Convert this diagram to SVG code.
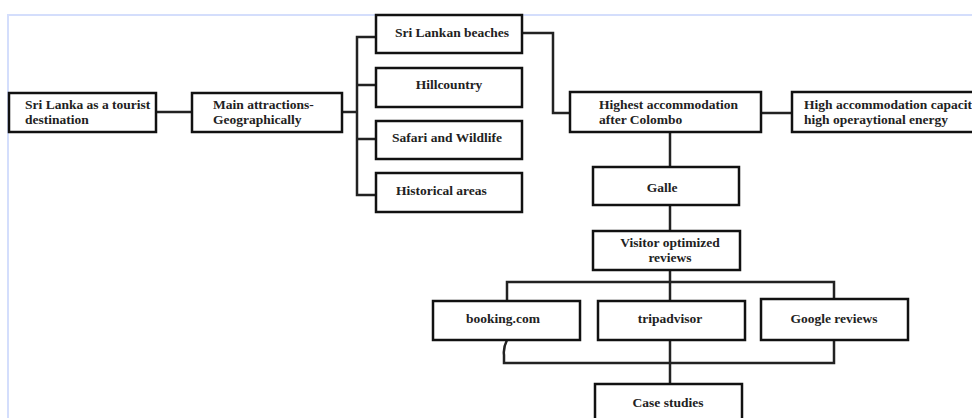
<svg xmlns="http://www.w3.org/2000/svg" width="972" height="418" viewBox="0 0 972 418">
<style>
.box{fill:#fff;stroke:#111;stroke-width:2.5}
.ln{fill:none;stroke:#222;stroke-width:2.5}
text{font-family:"Liberation Serif","DejaVu Serif",serif;font-weight:bold;font-size:13.5px;fill:#222}
.c{text-anchor:middle}
</style>
<rect width="972" height="418" fill="#fff"/>
<path d="M8,418 V15 H972" fill="none" stroke="#d4defc" stroke-width="2"/>
<g id="connectors">
<path class="ln" d="M156,112 H192"/>
<path class="ln" d="M342,112 H357"/>
<path class="ln" d="M376,37 H357 V195 H376"/>
<path class="ln" d="M357,85 H376 M357,139 H376"/>
<path class="ln" d="M522,33 H553 V113 H570"/>
<path class="ln" d="M761,113 H792"/>
<path class="ln" d="M670,132 V167"/>
<path class="ln" d="M670,205 V231"/>
<path class="ln" d="M670,270 V301"/>
<path class="ln" d="M507,301 V282 H834 V299"/>
<path class="ln" d="M507,340 Q503,348 504,355 V363 H834 V340"/>
<path class="ln" d="M670,340 V384"/>
</g>
<g id="n1"><rect class="box" x="9" y="93" width="147" height="39"/><text x="25" y="109">Sri Lanka as a tourist</text><text x="25" y="124">destination</text></g>
<g id="n2"><rect class="box" x="192" y="93" width="150" height="39"/><text x="213" y="109">Main attractions-</text><text x="213" y="124">Geographically</text></g>
<g id="n3"><rect class="box" x="376" y="15" width="146" height="38"/><text class="c" x="452" y="37">Sri Lankan beaches</text></g>
<g id="n4"><rect class="box" x="376" y="68" width="146" height="39"/><text class="c" x="449" y="89">Hillcountry</text></g>
<g id="n5"><rect class="box" x="376" y="121" width="146" height="38"/><text class="c" x="447" y="142">Safari and Wildlife</text></g>
<g id="n6"><rect class="box" x="376" y="173" width="146" height="39"/><text x="396" y="195">Historical areas</text></g>
<g id="n7"><rect class="box" x="570" y="92" width="191" height="40"/><text x="599" y="109">Highest accommodation</text><text x="599" y="124">after Colombo</text></g>
<g id="n8"><rect class="box" x="792" y="92" width="190" height="40"/><text x="804" y="109">High accommodation capacit</text><text x="804" y="124">high operaytional energy</text></g>
<g id="n9"><rect class="box" x="593" y="167" width="146" height="38"/><text class="c" x="662" y="192">Galle</text></g>
<g id="n10"><rect class="box" x="593" y="231" width="147" height="39"/><text class="c" x="670" y="247">Visitor optimized</text><text class="c" x="670" y="262">reviews</text></g>
<g id="n11"><rect class="box" x="433" y="301" width="147" height="39"/><text class="c" x="503" y="323">booking.com</text></g>
<g id="n12"><rect class="box" x="598" y="301" width="147" height="39"/><text class="c" x="670" y="323">tripadvisor</text></g>
<g id="n13"><rect class="box" x="761" y="299" width="147" height="41"/><text class="c" x="834" y="323">Google reviews</text></g>
<g id="n14"><rect class="box" x="595" y="384" width="147" height="40"/><text class="c" x="668" y="407">Case studies</text></g>
</svg>
